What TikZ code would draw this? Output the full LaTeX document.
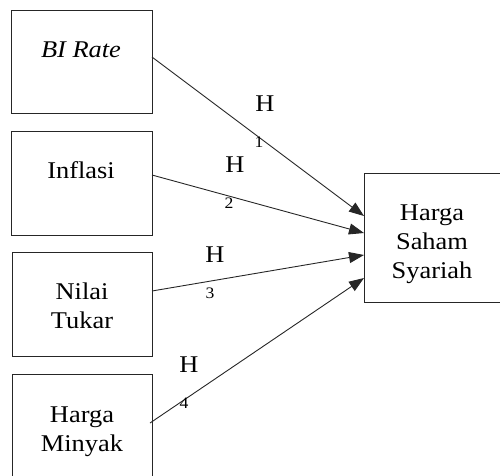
\documentclass[tikz,border=0pt]{standalone}
\usepackage{fontspec}
\setmainfont[FakeStretch=1.1]{Liberation Serif}
\usetikzlibrary{arrows.meta}
\begin{document}
\begin{tikzpicture}[x=1pt,y=-1pt,
  box/.style={draw=black!85,line width=0.9pt,inner sep=0pt,anchor=north west},
  txt/.style={font=\fontsize{24}{29}\selectfont,align=center,inner sep=0pt,anchor=base},
  hl/.style={font=\fontsize{24}{29}\selectfont,inner sep=0pt},
  sub/.style={font=\fontsize{16}{18}\selectfont,inner sep=0pt},
  conn/.style={draw=black!85,line width=0.9pt,-{Triangle[length=15pt,width=11pt]}}]
\useasboundingbox (0,0) rectangle (500,475);
\node[box,minimum width=141pt,minimum height=103pt] (b1) at (11,10) {};
\node[box,minimum width=141pt,minimum height=104pt] (b2) at (11,131) {};
\node[box,minimum width=140pt,minimum height=104pt] (b3) at (12,252) {};
\node[box,minimum width=140pt,minimum height=115pt] (b4) at (12,374) {};
\node[box,minimum width=138pt,minimum height=129pt] (t) at (364,173) {};
\node[txt] (l1) at (81,57) {\itshape BI Rate};
\node[txt] (l2) at (81,178) {Inflasi};
\node[txt] (l3) at (82,328) {Nilai\\Tukar};
\node[txt] (l4) at (82,451) {Harga\\Minyak};
\node[txt] (lt) at (432,278) {Harga\\Saham\\Syariah};
\coordinate (s1) at (152,57);
\coordinate (s2) at (152,175);
\coordinate (s3) at (152,291);
\coordinate (s4) at (150,423);
\coordinate (e1) at (364,216);
\coordinate (e2) at (364,233);
\coordinate (e3) at (364,255);
\coordinate (e4) at (364,278);
\draw[conn] (s1) -- (e1);
\draw[conn] (s2) -- (e2);
\draw[conn] (s3) -- (e3);
\draw[conn] (s4) -- (e4);
\node[hl] (h1) at (265,104) {H};
\node[sub] (n1) at (259,142) {1};
\node[hl] (h2) at (235,165) {H};
\node[sub] (n2) at (229,203) {2};
\node[hl] (h3) at (215,255) {H};
\node[sub] (n3) at (210,293) {3};
\node[hl] (h4) at (189,365) {H};
\node[sub] (n4) at (184,403) {4};
\end{tikzpicture}
\end{document}
